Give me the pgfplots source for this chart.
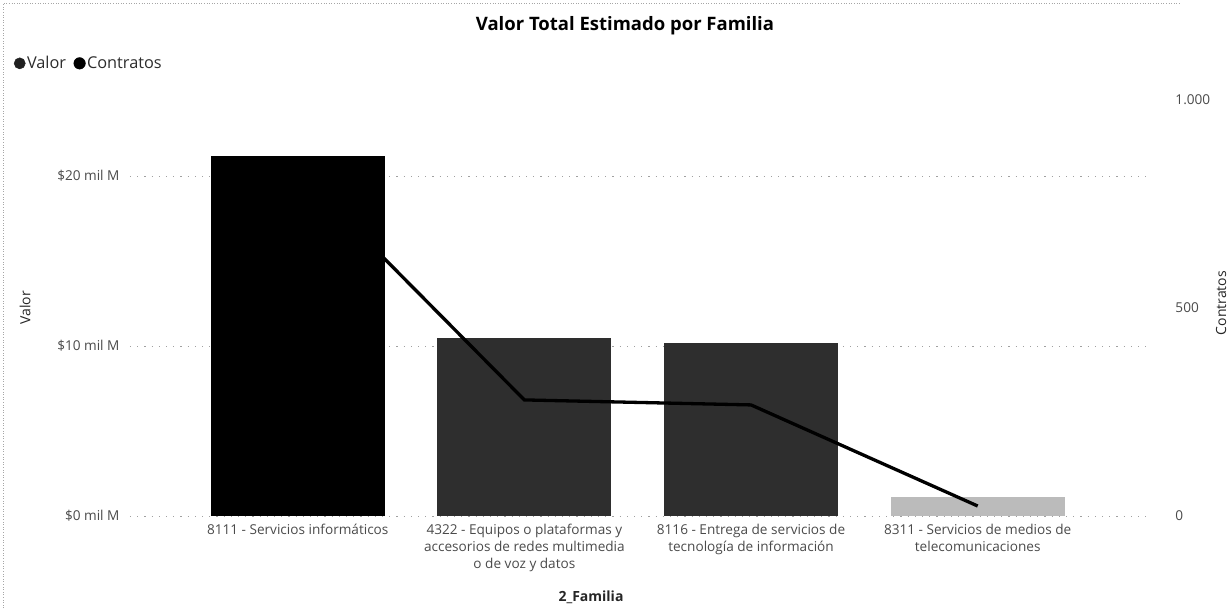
\documentclass[border=0pt]{standalone}
\usepackage{fontspec}
\setmainfont{Open Sans}
\usepackage{pgfplots}
\pgfplotsset{compat=1.18}
\definecolor{barA}{HTML}{000000}
\definecolor{barB}{HTML}{2E2E2E}
\definecolor{barD}{HTML}{BBBBBB}
\definecolor{tickc}{HTML}{4A4A4A}
\definecolor{gridc}{HTML}{A0A0A0}
\begin{document}
\begin{tikzpicture}[x=1pt,y=1pt]
\path[use as bounding box] (0,0) rectangle (1232,608);
\draw[dotted, gray!70, line width=0.6pt] (3,0) -- (3,605) -- (1180,605);
\begin{axis}[
  at={(130pt,92pt)}, anchor=south west, scale only axis,
  width=1020pt, height=436pt,
  xmin=-0.74, xmax=3.76, ymin=0, ymax=25.65,
  axis line style={draw=none}, major tick length=0pt,
  xtick={0,1,2,3},
  xticklabels={{8111 - Servicios informáticos},{4322 - Equipos o plataformas y\\accesorios de redes multimedia\\o de voz y datos},{8116 - Entrega de servicios de\\tecnología de información},{8311 - Servicios de medios de\\telecomunicaciones}},
  xticklabel style={align=center, anchor=north, font=\fontsize{13.6}{17}\selectfont, text=tickc, yshift=-5pt},
  ytick={0,10,20},
  yticklabels={\$0 mil M,\$10 mil M,\$20 mil M},
  yticklabel style={font=\fontsize{13.6}{15}\selectfont, text=tickc, anchor=east, xshift=-7pt},
  ymajorgrids, grid style={gridc, line width=0.8pt, dash pattern=on 1.2pt off 6pt},
  legend style={at={(-0.114,1.058)}, anchor=north west, draw=none, fill=none,
    font=\fontsize{16.3}{18}\selectfont, text=tickc!60!black, legend columns=2,
    /tikz/every even column/.append style={column sep=6pt}, inner sep=0pt,
    nodes={inner sep=1.5pt}},
  legend cell align=left,
]
\addlegendimage{legend image code/.code={\fill[barB!70!black] (5pt,0pt) circle (5.6pt);}}
\addlegendentry{Valor}
\addlegendimage{legend image code/.code={\fill[black] (5pt,0pt) circle (5.8pt);}}
\addlegendentry{Contratos}
\addplot[ybar, bar shift=0pt, bar width=174pt, fill=barA, draw=none, forget plot] coordinates {(0,21.2)};
\addplot[ybar, bar shift=0pt, bar width=174pt, fill=barB, draw=none, forget plot] coordinates {(1,10.5)};
\addplot[ybar, bar shift=0pt, bar width=174pt, fill=barB, draw=none, forget plot] coordinates {(2,10.2)};
\addplot[ybar, bar shift=0pt, bar width=174pt, fill=barD, draw=none, forget plot] coordinates {(3,1.1)};
\end{axis}
\begin{axis}[
  at={(130pt,92pt)}, anchor=south west, scale only axis,
  width=1020pt, height=436pt,
  xmin=-0.74, xmax=3.76, ymin=0, ymax=1048,
  axis x line=none, axis y line*=right,
  axis line style={draw=none}, major tick length=0pt,
  ytick={0,500,1000}, yticklabels={0,500,1.000},
  yticklabel style={font=\fontsize{13.6}{15}\selectfont, text=tickc, anchor=west, xshift=22pt},
]
\addplot[black, line width=3.3pt] coordinates {(0,829) (1,279) (2,267) (3,24)};
\end{axis}
\node[font=\bfseries\fontsize{18.5}{21}\selectfont] at (625,582) {Valor Total Estimado por Familia};
\node[font=\fontsize{14}{16}\selectfont, rotate=90, text=black!85] at (25,300) {Valor};
\node[font=\fontsize{14}{16}\selectfont, rotate=90, text=black!85] at (1221,305) {Contratos};
\node[font=\bfseries\fontsize{14}{16}\selectfont, text=black!85] at (591,11) {2\_Familia};
\end{tikzpicture}
\end{document}
